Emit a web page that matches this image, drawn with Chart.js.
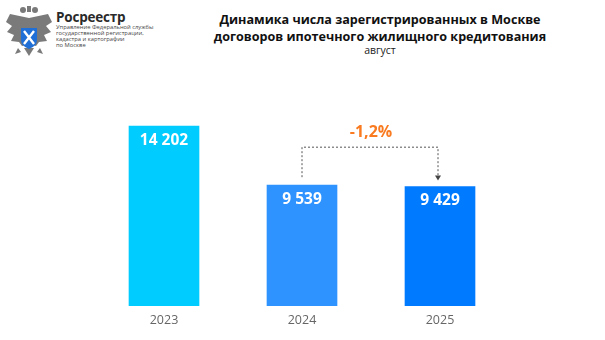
<!DOCTYPE html>
<html>
<head>
<meta charset="utf-8">
<script src="https://cdn.jsdelivr.net/npm/chart.js@4"></script>
<style>
  html, body { margin: 0; padding: 0; background: #fff; }
  body { width: 605px; height: 340px; position: relative; overflow: hidden; font-family: 'Open Sans', sans-serif; }
  #chartArea { position: absolute; left: 0; top: 0; width: 605px; height: 340px; }
  .logo { position: absolute; left: 4px; top: 4px; }
  .brand { position: absolute; left: 56px; top: 8px; font-weight: 700; font-size: 13.5px; color: #2a2a2a; letter-spacing: -0.2px; }
  .brand-sub { position: absolute; left: 56px; top: 24px; font-size: 5.8px; line-height: 6px; color: #444; }
  .title { position: absolute; left: 180px; width: 400px; top: 11px; text-align: center; font-weight: 700; font-size: 12.6px; line-height: 17px; color: #111; }
  .subtitle { position: absolute; left: 180px; width: 400px; top: 43px; text-align: center; font-size: 10.5px; color: #222; }
</style>
</head>
<body>
<svg class="logo" width="50" height="54" viewBox="0 0 50 54">
  <!-- простая эмблема: орёл и щит -->
  <g fill="#7a7a7a">
    <circle cx="19" cy="6" r="3"/>
    <circle cx="31" cy="6" r="3"/>
    <rect x="23" y="2" width="4" height="6"/>
    <path d="M25 14 L6 10 L2 18 L8 22 L3 28 L10 31 L7 37 L15 38 L18 42 L25 40 L32 42 L35 38 L43 37 L40 31 L47 28 L42 22 L48 18 L44 10 Z"/>
    <path d="M20 44 L25 52 L30 44 Z"/>
    <path d="M14 44 L11 50 L17 48 Z"/>
    <path d="M36 44 L39 50 L33 48 Z"/>
  </g>
  <path d="M17 24 H33 V36 Q33 42 25 45 Q17 42 17 36 Z" fill="#1f6fd6"/>
  <path d="M20 27 L30 40 M30 27 L20 40" stroke="#fff" stroke-width="2.4"/>
</svg>
<div class="brand">Росреестр</div>
<div class="brand-sub">Управление Федеральной службы<br>государственной регистрации,<br>кадастра и картографии<br>по Москве</div>
<div class="title">Динамика числа зарегистрированных в Москве<br>договоров ипотечного жилищного кредитования</div>
<div class="subtitle">август</div>
<div id="chartArea"><canvas id="mortgageChart" width="605" height="340"></canvas></div>
<script>
const years = ['2023', '2024', '2025'];
const contracts = [14202, 9539, 9429];
const barColors = ['#00CCFF', '#2E93FF', '#007BFF'];
const changeLabel = '-1,2%';

function formatNumber(v) {
  return String(v).replace(/\B(?=(\d{3})+(?!\d))/g, ' ');
}

// values inside bars + bracket with percent change
const annotatePlugin = {
  id: 'annotate',
  afterDatasetsDraw(chart) {
    const ctx = chart.ctx;
    const meta = chart.getDatasetMeta(0);
    ctx.save();
    ctx.fillStyle = '#fff';
    ctx.font = "bold 15.5px 'Open Sans'";
    ctx.textAlign = 'center';
    ctx.textBaseline = 'middle';
    meta.data.forEach((bar, i) => {
      ctx.fillText(formatNumber(contracts[i]), bar.x, bar.y + 14);
    });

    const b1 = meta.data[1];
    const b2 = meta.data[2];
    const topY = Math.min(b1.y, b2.y) - 38;
    ctx.strokeStyle = '#555';
    ctx.lineWidth = 1;
    ctx.setLineDash([2, 2]);
    ctx.beginPath();
    ctx.moveTo(b1.x, b1.y - 8);
    ctx.lineTo(b1.x, topY);
    ctx.lineTo(b2.x - 2, topY);
    ctx.lineTo(b2.x - 2, b2.y - 10);
    ctx.stroke();
    ctx.setLineDash([]);
    ctx.fillStyle = '#444';
    ctx.beginPath();
    ctx.moveTo(b2.x - 5, b2.y - 11);
    ctx.lineTo(b2.x + 1, b2.y - 11);
    ctx.lineTo(b2.x - 2, b2.y - 6);
    ctx.closePath();
    ctx.fill();

    ctx.fillStyle = '#F97A1F';
    ctx.font = "bold 16px 'Open Sans'";
    ctx.fillText(changeLabel, (b1.x + b2.x) / 2, topY - 15);
    ctx.restore();
  }
};

const ctx = document.getElementById('mortgageChart').getContext('2d');
const mortgageChart = new Chart(ctx, {
  type: 'bar',
  data: {
    labels: years,
    datasets: [{
      data: contracts,
      backgroundColor: barColors,
      borderWidth: 0,
      barThickness: 70,
    }],
  },
  options: {
    responsive: false,
    animation: false,
    layout: {
      padding: { left: 95, right: 96, top: 116, bottom: 5 },
    },
    plugins: {
      legend: { display: false },
      tooltip: { enabled: false },
    },
    scales: {
      x: {
        grid: { display: false, drawTicks: false },
        border: { display: false },
        ticks: {
          color: '#666',
          font: { family: "'Open Sans'", size: 12.5 },
          padding: 7,
        },
      },
      y: {
        display: false,
        min: 0,
        max: 15000,
      },
    },
  },
  plugins: [annotatePlugin],
});
</script>
</body>
</html>
